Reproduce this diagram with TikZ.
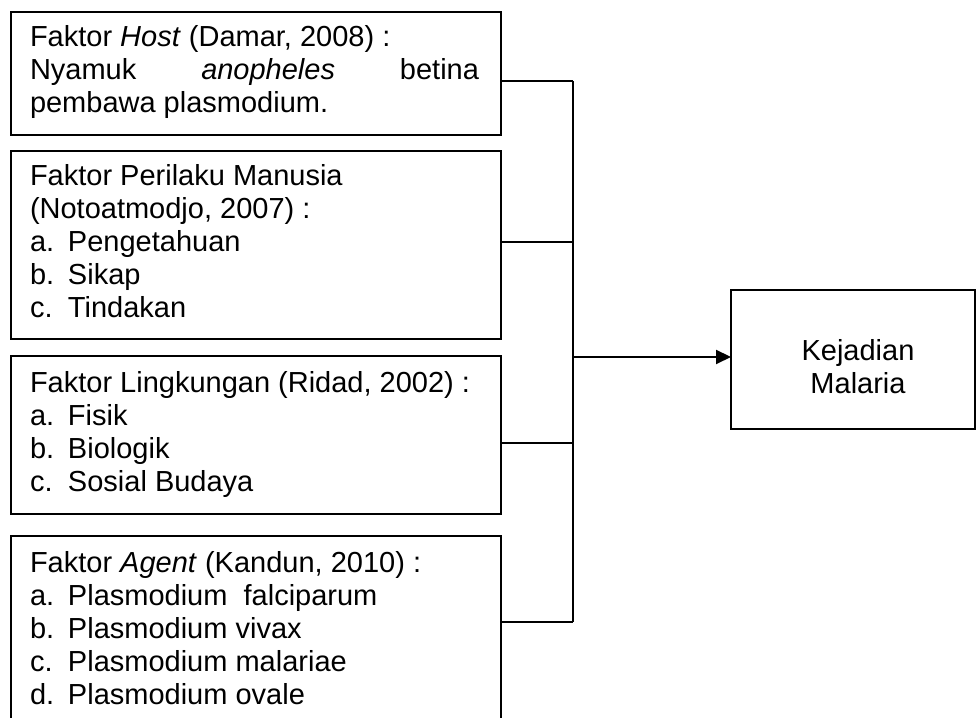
\documentclass[tikz,border=0pt]{standalone}
\usepackage{fontspec}
\setmainfont{Liberation Sans}
\usetikzlibrary{arrows.meta}
\newcommand{\factorbox}[3]{\parbox[t][#1][t]{490pt}{\leftskip=19pt\rightskip=22pt\rule{0pt}{#2}#3}}
\newcommand{\itm}[1]{\makebox[38pt][l]{#1}}
\begin{document}
\begin{tikzpicture}[x=1pt,y=1pt,
  boxstyle/.style={draw, line width=2pt, rectangle, inner sep=0pt, outer sep=0pt, anchor=north west,
    font=\fontsize{29pt}{33pt}\selectfont},
  link/.style={line width=2pt},
  arrowlink/.style={line width=2pt, -{Triangle[length=15pt,width=14pt]}}]
\useasboundingbox (0,0) rectangle (976,717);
\clip (0,0) rectangle (976,717);
\fill[white] (0,0) rectangle (976,717);

\node[boxstyle] (b1) at (11,705.3) {\factorbox{123pt}{35pt}{Faktor \textit{Host} (Damar, 2008) :\\
Nyamuk\hfill\textit{anopheles}\hfill betina\\
pembawa plasmodium.}};

\node[boxstyle] (b2) at (11,566) {\factorbox{188pt}{35pt}{Faktor Perilaku Manusia\\
(Notoatmodjo, 2007) :\\
\itm{a.}Pengetahuan\\
\itm{b.}Sikap\\
\itm{c.}Tindakan}};

\node[boxstyle] (b3) at (11,361) {\factorbox{158pt}{37pt}{Faktor Lingkungan (Ridad, 2002) :\\
\itm{a.}Fisik\\
\itm{b.}Biologik\\
\itm{c.}Sosial Budaya}};

\node[boxstyle] (b4) at (11,181) {\factorbox{200pt}{37pt}{Faktor \textit{Agent} (Kandun, 2010) :\\
\itm{a.}Plasmodium~ falciparum\\
\itm{b.}Plasmodium vivax\\
\itm{c.}Plasmodium malariae\\
\itm{d.}Plasmodium ovale}};

\node[boxstyle] (k) at (731,427) {\parbox[t][139pt][t]{244pt}{\centering\leftskip=10pt plus 1fil\rule{0pt}{71pt}Kejadian\\Malaria}};

\coordinate (j1) at (572.7,636);
\coordinate (j2) at (572.7,475);
\coordinate (j3) at (572.7,274);
\coordinate (j4) at (572.7,95.3);
\coordinate (jm) at (572.7,360);

\draw[link] (j1) -- (j4);
\draw[link] (j1 -| b1.east) -- (j1);
\draw[link] (j2 -| b2.east) -- (j2);
\draw[link] (j3 -| b3.east) -- (j3);
\draw[link] (j4 -| b4.east) -- (j4);
\draw[arrowlink] (jm) -- (jm -| k.west);
\end{tikzpicture}
\end{document}
